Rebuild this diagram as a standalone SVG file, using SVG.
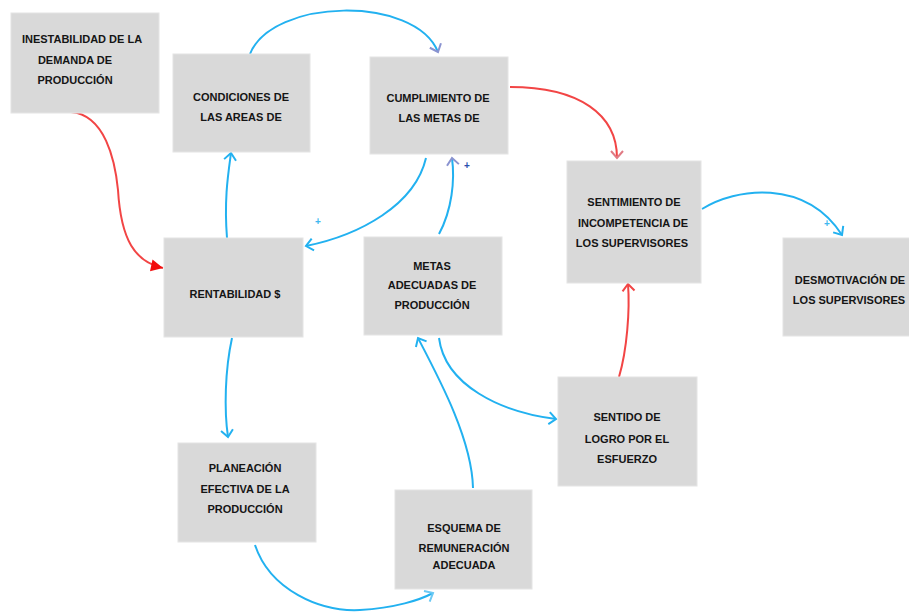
<svg xmlns="http://www.w3.org/2000/svg" width="909" height="613" viewBox="0 0 909 613">
<style>
.box{fill:#d9d9d9;stroke:#e4e4e4;stroke-width:1}
.t{font-family:"Liberation Sans",Arial,sans-serif;font-weight:bold;font-size:11px;fill:#151515;text-anchor:middle}
.b{fill:none;stroke:#22b1f0;stroke-width:2}
.r{fill:none;stroke:#f24545;stroke-width:2}
.p{font-family:"Liberation Sans",Arial,sans-serif;font-size:10px;font-weight:bold;text-anchor:middle}
</style>
<defs>
<marker id="ab" viewBox="-10 -8 12 16" refX="0" refY="0" markerWidth="12" markerHeight="16" markerUnits="userSpaceOnUse" orient="auto"><path d="M-7,-6 L0,0 L-7,6" fill="none" stroke="#22b1f0" stroke-width="2"/></marker>
<marker id="ap" viewBox="-10 -8 12 16" refX="0" refY="0" markerWidth="12" markerHeight="16" markerUnits="userSpaceOnUse" orient="auto"><path d="M-7,-6 L0,0 L-7,6" fill="none" stroke="#8a93d0" stroke-width="2"/></marker>
<marker id="al" viewBox="-10 -8 12 16" refX="0" refY="0" markerWidth="12" markerHeight="16" markerUnits="userSpaceOnUse" orient="auto"><path d="M-7,-6 L0,0 L-7,6" fill="none" stroke="#6cc9f4" stroke-width="2"/></marker>
<marker id="ar" viewBox="-10 -8 12 16" refX="0" refY="0" markerWidth="12" markerHeight="16" markerUnits="userSpaceOnUse" orient="auto"><path d="M-7,-6 L0,0 L-7,6" fill="none" stroke="#f24545" stroke-width="2"/></marker>
<marker id="arp" viewBox="-10 -8 12 16" refX="0" refY="0" markerWidth="12" markerHeight="16" markerUnits="userSpaceOnUse" orient="auto"><path d="M-7,-6 L0,0 L-7,6" fill="none" stroke="#e07a84" stroke-width="2"/></marker>
<marker id="af" viewBox="-13 -7 14 14" refX="0" refY="0" markerWidth="14" markerHeight="14" markerUnits="userSpaceOnUse" orient="auto"><path d="M-12,-6 L0,0 L-12,6Z" fill="#f20d0d"/></marker>
</defs>
<rect width="909" height="613" fill="#ffffff"/>
<g id="connectors">
<path class="r" d="M71,112 C105,115 115,160 118,190 C121,240 135,262 163,268" marker-end="url(#af)"/>
<path class="b" d="M227,238 C224,200 228,175 231,153" marker-end="url(#ab)"/>
<path class="b" d="M250,54 C272,-2 415,-5 438,52" marker-end="url(#ap)"/>
<path class="r" d="M510,87 C580,87 617,115 617,158" marker-end="url(#arp)"/>
<path class="b" d="M426,158 C415,205 360,235 306,246" marker-end="url(#ab)"/>
<path class="b" d="M439,234 C452,210 455,180 452,158" marker-end="url(#ap)"/>
<path class="b" d="M702,209 C735,188 805,178 842,235" marker-end="url(#ab)"/>
<path class="r" d="M619,377 C627,350 630,310 628,284" marker-end="url(#ar)"/>
<path class="b" d="M439,338 C445,385 500,412 556,419" marker-end="url(#ab)"/>
<path class="b" d="M473,488 C472,440 440,380 418,338" marker-end="url(#ab)"/>
<path class="b" d="M232,338 C225,370 224,410 228,437" marker-end="url(#ab)"/>
<path class="b" d="M255,545 C270,590 320,612 360,610 C395,608 420,600 433,593" marker-end="url(#al)"/>
<text class="p" x="318" y="225" fill="#3fb8f0" font-size="9">+</text>
<text class="p" x="467" y="169" fill="#2a4fae">+</text>
<text class="p" x="827" y="227" fill="#3fb8f0" font-size="9">+</text>
</g>
<g id="n1"><rect class="box" x="11" y="13" width="148" height="100"/>
<text class="t" x="82" y="43">INESTABILIDAD DE LA</text><text class="t" x="75" y="64">DEMANDA DE</text><text class="t" x="75" y="84">PRODUCCIÓN</text></g>
<g id="n2"><rect class="box" x="173" y="54" width="137" height="98"/>
<text class="t" x="241" y="101">CONDICIONES DE</text><text class="t" x="241" y="121">LAS AREAS DE</text></g>
<g id="n3"><rect class="box" x="370" y="57" width="138" height="97"/>
<text class="t" x="438" y="102">CUMPLIMIENTO DE</text><text class="t" x="439" y="122">LAS METAS DE</text></g>
<g id="n4"><rect class="box" x="567" y="161" width="134" height="122"/>
<text class="t" x="634" y="206">SENTIMIENTO DE</text><text class="t" x="633" y="227">INCOMPETENCIA DE</text><text class="t" x="632" y="247">LOS SUPERVISORES</text></g>
<g id="n5"><rect class="box" x="783" y="238" width="130" height="98"/>
<text class="t" x="850" y="284">DESMOTIVACIÓN DE</text><text class="t" x="849" y="304">LOS SUPERVISORES</text></g>
<g id="n6"><rect class="box" x="164" y="238" width="139" height="99"/>
<text class="t" x="235" y="298">RENTABILIDAD $</text></g>
<g id="n7"><rect class="box" x="364" y="237" width="138" height="98"/>
<text class="t" x="432" y="270">METAS</text><text class="t" x="432" y="289">ADECUADAS DE</text><text class="t" x="432" y="309">PRODUCCIÓN</text></g>
<g id="n8"><rect class="box" x="178" y="443" width="138" height="99"/>
<text class="t" x="245" y="472">PLANEACIÓN</text><text class="t" x="245" y="493">EFECTIVA DE LA</text><text class="t" x="245" y="513">PRODUCCIÓN</text></g>
<g id="n9"><rect class="box" x="395" y="490" width="137" height="99"/>
<text class="t" x="464" y="532">ESQUEMA DE</text><text class="t" x="464" y="552">REMUNERACIÓN</text><text class="t" x="464" y="569">ADECUADA</text></g>
<g id="n10"><rect class="box" x="558" y="377" width="139" height="109"/>
<text class="t" x="627" y="421">SENTIDO DE</text><text class="t" x="627" y="443">LOGRO POR EL</text><text class="t" x="627" y="463">ESFUERZO</text></g>
</svg>
